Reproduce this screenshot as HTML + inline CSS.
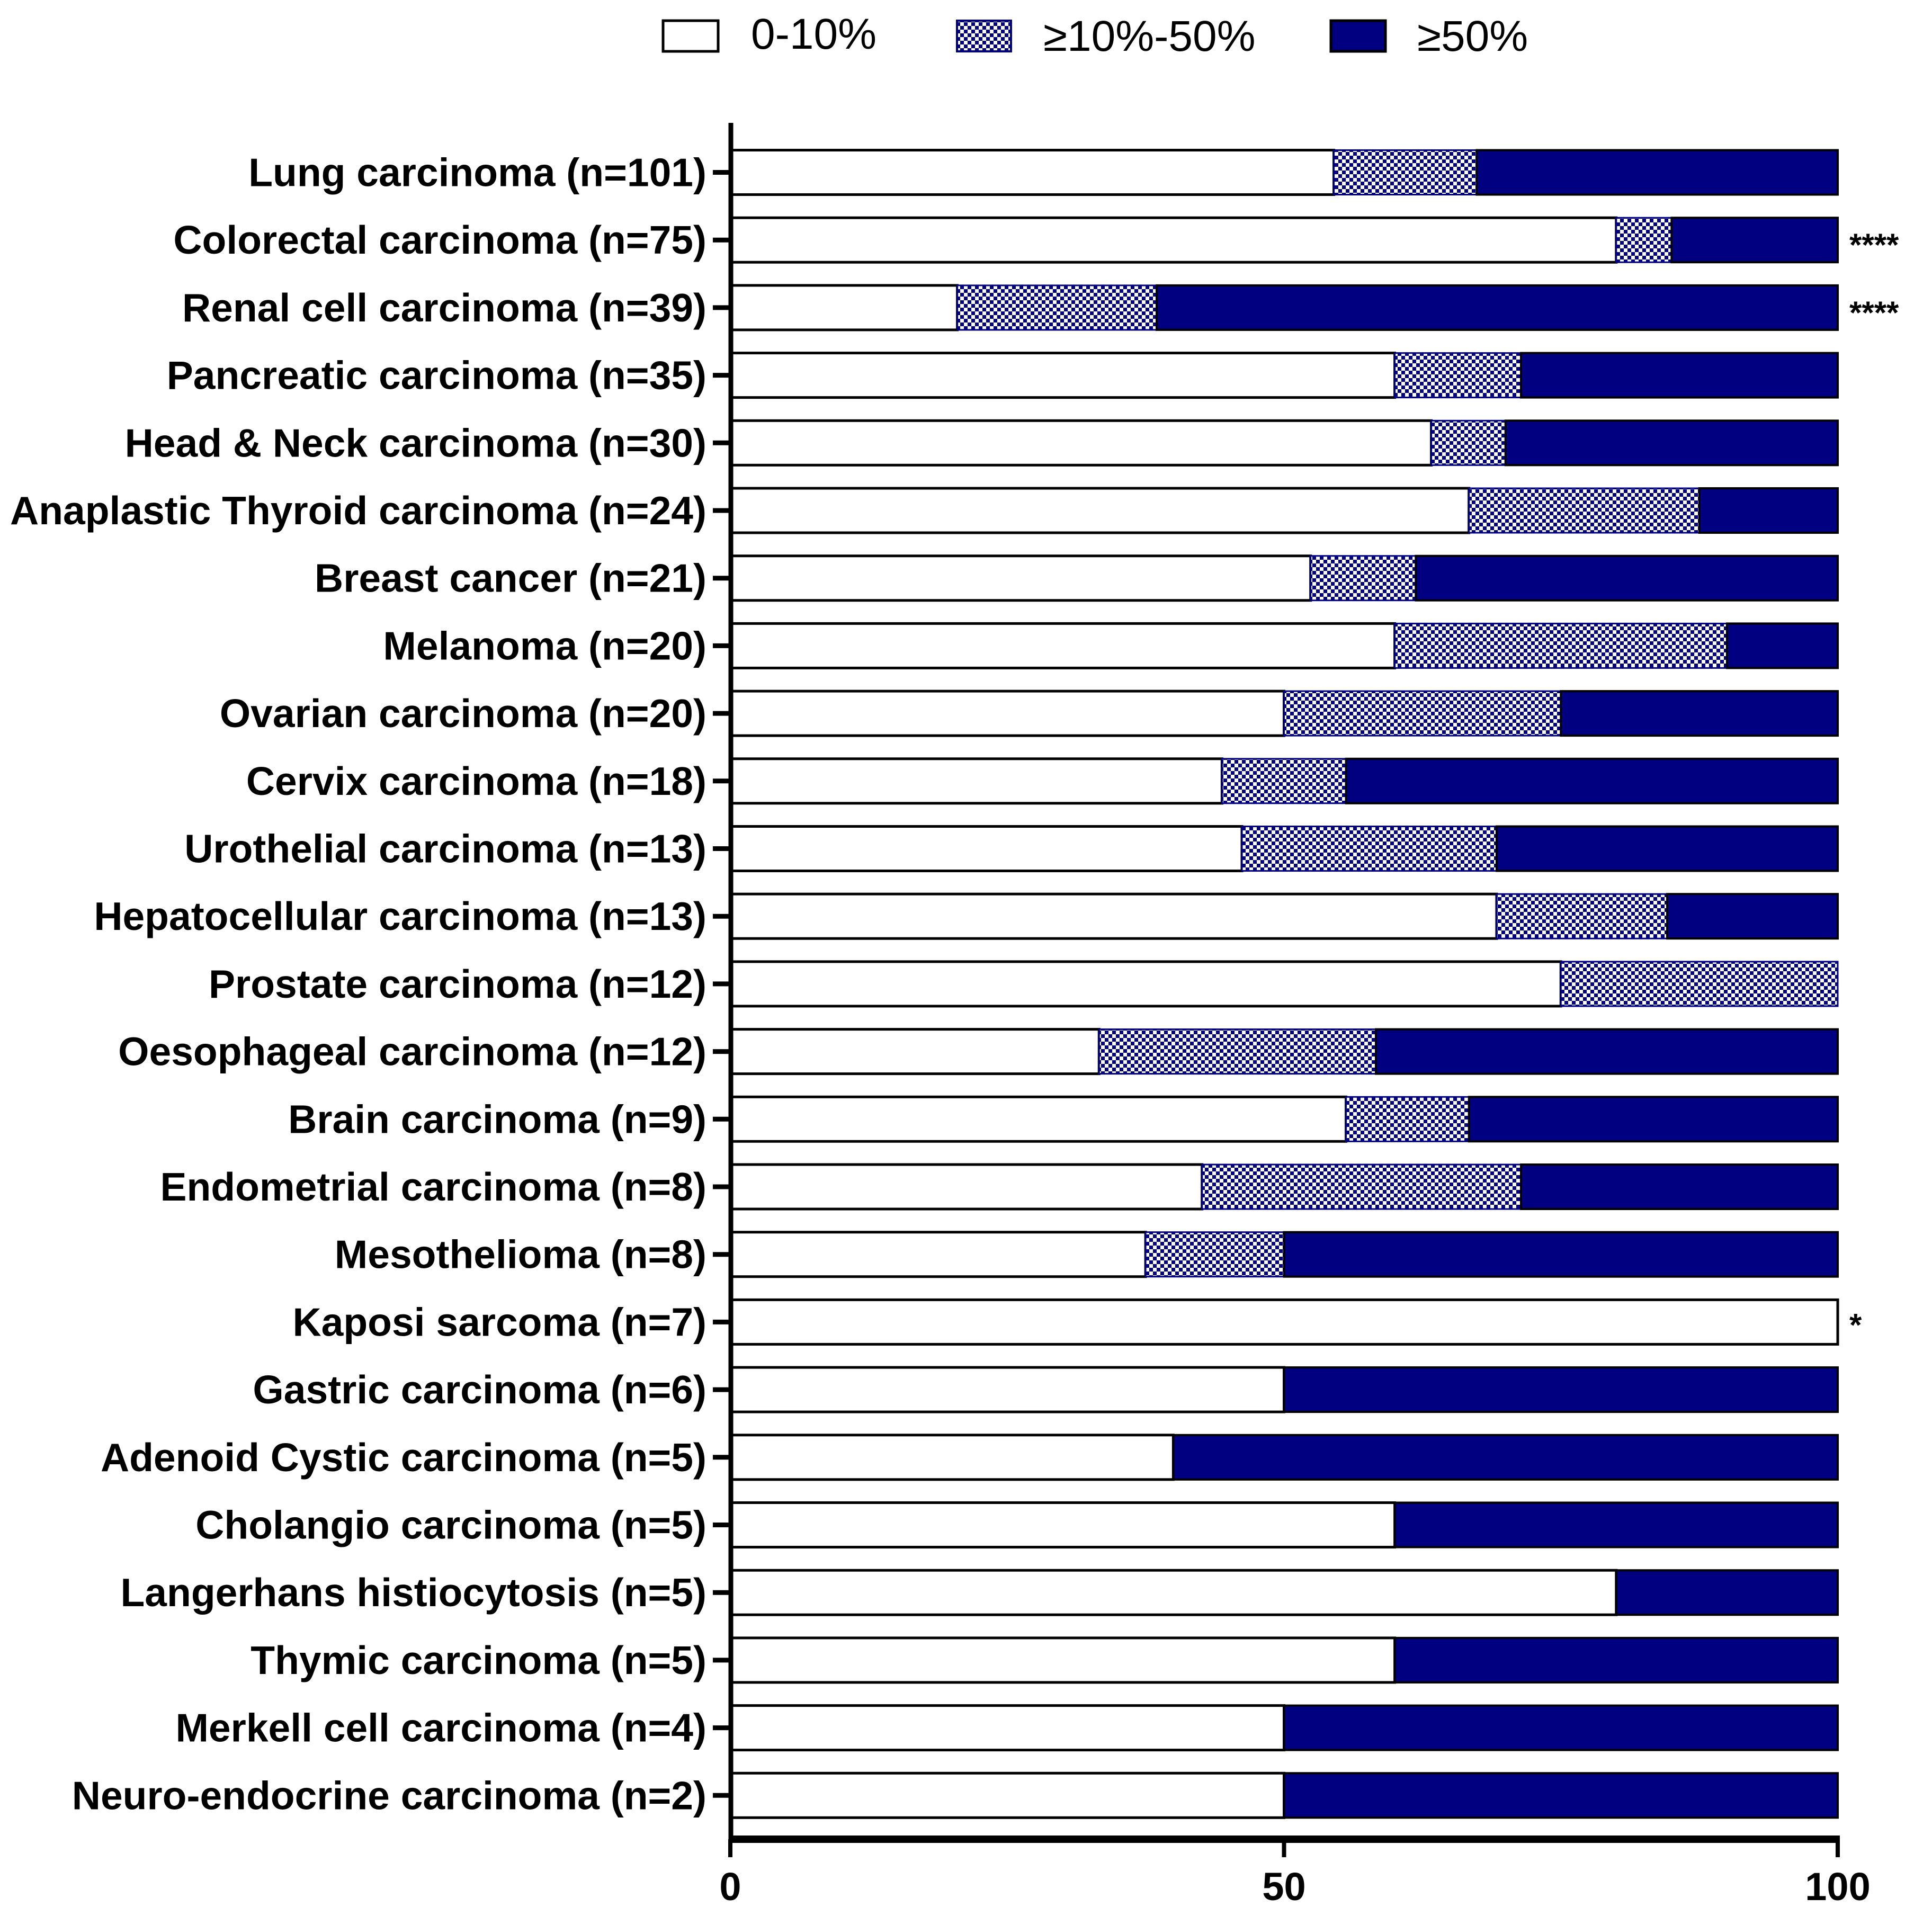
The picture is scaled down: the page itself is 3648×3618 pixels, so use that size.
<!DOCTYPE html>
<html><head><meta charset="utf-8"><style>
html,body{margin:0;padding:0;background:#fff;}
svg{display:block;font-family:"Liberation Sans",Arial,sans-serif;}
</style></head><body>
<svg id="chart" width="3648" height="3618" viewBox="0 0 3648 3618">
<defs>
<pattern id="check" width="14" height="14" patternUnits="userSpaceOnUse">
<rect width="14" height="14" fill="#ffffff"/>
<rect width="7" height="7" fill="#000080"/>
<rect x="7" y="7" width="7" height="7" fill="#000080"/>
</pattern>
</defs>
<g>
<rect x="1252" y="39" width="104" height="58" fill="#fff" stroke="#000" stroke-width="5"/>
<text x="1418" y="92" font-size="82">0-10%</text>
<rect x="1807" y="39" width="102" height="58" fill="url(#check)" stroke="#000080" stroke-width="4"/>
<text x="1970" y="96" font-size="82">≥10%-50%</text>
<rect x="2513" y="39" width="103" height="58" fill="#000080" stroke="#000" stroke-width="5"/>
<text x="2676" y="96" font-size="82">≥50%</text>
</g>
<g id="bars"></g>
<line x1="1380" y1="232" x2="1380" y2="3480" stroke="#000" stroke-width="9"/>
<line x1="1376" y1="3473" x2="3474" y2="3473" stroke="#000" stroke-width="14"/>
<g id="xticks"></g>
</svg>
<script>
const categories = ["Lung carcinoma (n=101)","Colorectal carcinoma (n=75)","Renal cell carcinoma (n=39)","Pancreatic carcinoma (n=35)","Head & Neck carcinoma (n=30)","Anaplastic Thyroid carcinoma (n=24)","Breast cancer (n=21)","Melanoma (n=20)","Ovarian carcinoma (n=20)","Cervix carcinoma (n=18)","Urothelial carcinoma (n=13)","Hepatocellular carcinoma (n=13)","Prostate carcinoma (n=12)","Oesophageal carcinoma (n=12)","Brain carcinoma (n=9)","Endometrial carcinoma (n=8)","Mesothelioma (n=8)","Kaposi sarcoma (n=7)","Gastric carcinoma (n=6)","Adenoid Cystic carcinoma (n=5)","Cholangio carcinoma (n=5)","Langerhans histiocytosis (n=5)","Thymic carcinoma (n=5)","Merkell cell carcinoma (n=4)","Neuro-endocrine carcinoma (n=2)"];
const lowPct = [54.5,80,20.5,60,63.3,66.7,52.4,60,50,44.4,46.2,69.2,75,33.3,55.6,42.6,37.5,100,50,40,60,80,60,50,50];
const midPct = [12.9,5,18,11.4,6.7,20.8,9.5,30,25,11.2,23,15.4,25,25,11.1,28.8,12.5,0,0,0,0,0,0,0,0];
const highPct = [32.6,15,61.5,28.6,30,12.5,38.1,10,25,44.4,30.8,15.4,0,41.7,33.3,28.6,50,0,50,60,40,20,40,50,50];
const significance = ["","****","****","","","","","","","","","","","","","","","*","","","","","","",""];
const xTicks = [0,50,100];

const NS="http://www.w3.org/2000/svg";
const x0=1379, x1=3470;
function xs(v){return x0+(x1-x0)*v/100;}
const rowTop=325.5, rowStep=127.7, barH=84;
function yc(i){return rowTop+rowStep*i;}
function mk(tag,attrs,parent){const e=document.createElementNS(NS,tag);for(const k in attrs)e.setAttribute(k,attrs[k]);parent.appendChild(e);return e;}
const g=document.getElementById('bars');
categories.forEach((c,i)=>{
  const y=yc(i)-barH/2;
  const a=lowPct[i], b=a+midPct[i], t=b+highPct[i];
  const r1=mk('rect',{x:xs(0),y:y,width:xs(a)-xs(0),height:barH,fill:'#fff',stroke:'#000','stroke-width':5},g);
  
  
  if(midPct[i]>0){
    const r2=mk('rect',{x:xs(a),y:y,width:xs(b)-xs(a),height:barH,fill:'url(#check)',stroke:'#000080','stroke-width':3},g);
    
    
  }
  if(highPct[i]>0){
    const r3=mk('rect',{x:xs(b),y:y,width:xs(t)-xs(b),height:barH,fill:'#000080',stroke:'#000','stroke-width':4},g);
    
    
  }
  const tk=mk('line',{x1:1346,x2:1380,y1:yc(i),y2:yc(i),stroke:'#000','stroke-width':9},g);
  
  
  const tx=mk('text',{x:1334,y:yc(i)+26,'font-size':75,'font-weight':'bold','text-anchor':'end'},g);
  tx.textContent=c;
  
  
  if(significance[i]){
    const s=mk('text',{x:3492,y:yc(i)+(significance[i]==='*'?26:30),'font-size':60,'font-weight':'bold'},g);
    s.textContent=significance[i];
    
    
  }
});
const xg=document.getElementById('xticks');
xTicks.forEach(v=>{
  const l=mk('line',{x1:xs(v),x2:xs(v),y1:3473,y2:3507,stroke:'#000','stroke-width':8},xg);
  
  
  const t=mk('text',{x:xs(v),y:3588,'font-size':74,'font-weight':'bold','text-anchor':'middle'},xg);
  t.textContent=v;
  
  
});
</script>
</body></html>
